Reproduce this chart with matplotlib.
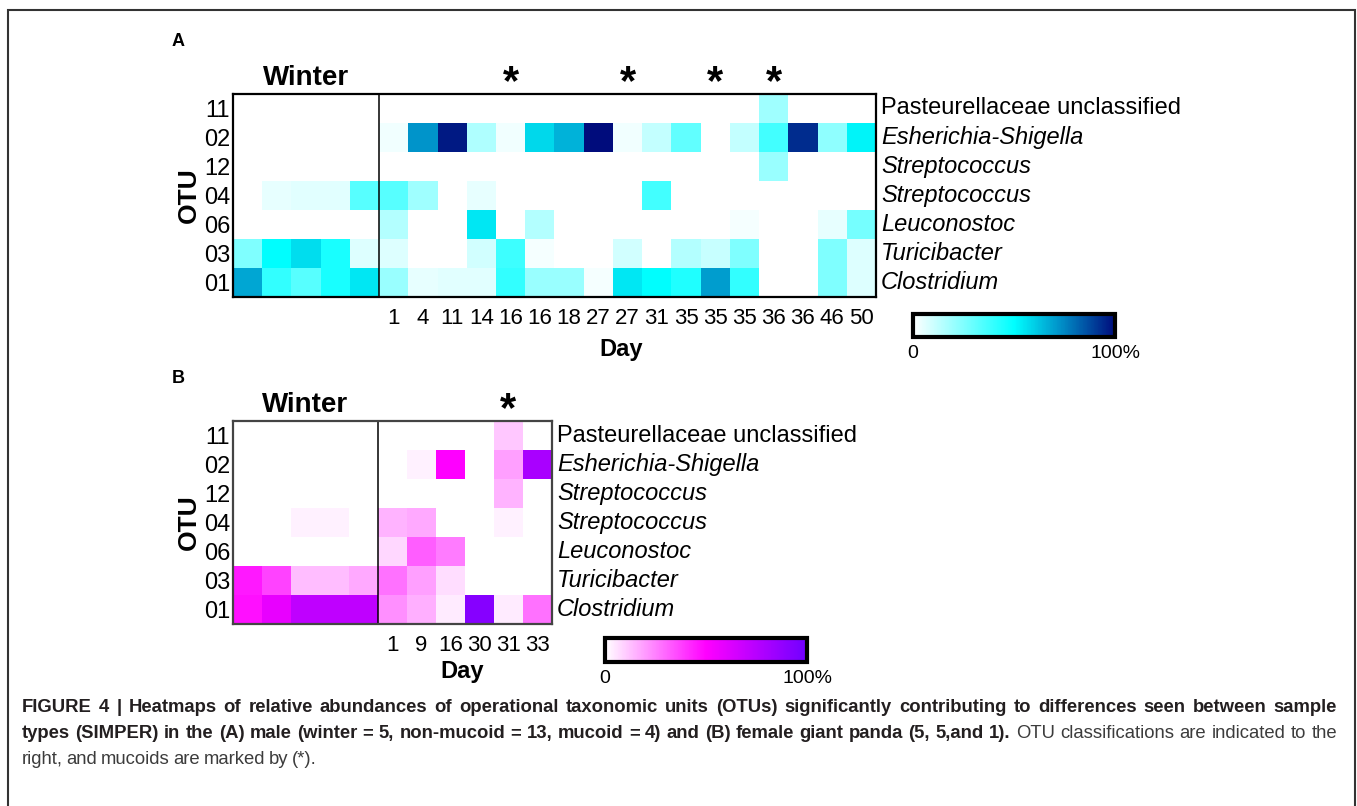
import matplotlib
matplotlib.use("Agg")
import matplotlib.pyplot as plt
import numpy as np
from matplotlib.colors import LinearSegmentedColormap
from matplotlib.patches import Rectangle
from matplotlib.transforms import offset_copy

# --- Data ---
otus = ["11", "02", "12", "04", "06", "03", "01"]
taxa = ["Pasteurellaceae unclassified", "Esherichia-Shigella", "Streptococcus",
        "Streptococcus", "Leuconostoc", "Turicibacter", "Clostridium"]
taxa_italic = [False, True, True, True, True, True, True]

n_winter_a = 5
days_a = [1, 4, 11, 14, 16, 16, 18, 27, 27, 31, 35, 35, 35, 36, 36, 46, 50]
mucoid_a = [0, 0, 0, 0, 1, 0, 0, 0, 1, 0, 0, 1, 0, 1, 0, 0, 0]
# relative abundance (0-1), rows = otus, cols = 5 winter + days_a
ab_11_a = [0, 0, 0, 0, 0, 0, 0, 0, 0, 0, 0, 0, 0, 0, 0, 0, 0, 0, 0.19, 0, 0, 0]
ab_02_a = [0, 0, 0, 0, 0, 0.03, 0.72, 0.97, 0.16, 0.03, 0.58, 0.66, 1.0, 0.03, 0.12,
           0.31, 0, 0.12, 0.37, 0.93, 0.22, 0.52]
ab_12_a = [0, 0, 0, 0, 0, 0, 0, 0, 0, 0, 0, 0, 0, 0, 0, 0, 0, 0, 0.2, 0, 0, 0]
ab_04_a = [0, 0.05, 0.06, 0.06, 0.33, 0.33, 0.19, 0, 0.05, 0, 0, 0, 0, 0, 0.37,
           0, 0, 0, 0, 0, 0, 0]
ab_06_a = [0, 0, 0, 0, 0, 0.15, 0, 0, 0.55, 0, 0.15, 0, 0, 0, 0, 0, 0, 0.02, 0, 0,
           0.05, 0.27]
ab_03_a = [0.25, 0.5, 0.57, 0.45, 0.07, 0.07, 0, 0, 0.09, 0.38, 0.02, 0, 0, 0.09, 0,
           0.15, 0.11, 0.25, 0, 0, 0.25, 0.07]
ab_01_a = [0.68, 0.4, 0.33, 0.45, 0.55, 0.2, 0.05, 0.06, 0.06, 0.4, 0.2, 0.2, 0.02,
           0.55, 0.5, 0.44, 0.7, 0.4, 0, 0, 0.25, 0.07]

n_winter_b = 5
days_b = [1, 9, 16, 30, 31, 33]
mucoid_b = [0, 0, 0, 0, 1, 0]
ab_11_b = [0, 0, 0, 0, 0, 0, 0, 0, 0, 0.11, 0]
ab_02_b = [0, 0, 0, 0, 0, 0, 0.03, 0.5, 0, 0.19, 0.8]
ab_12_b = [0, 0, 0, 0, 0, 0, 0, 0, 0, 0.15, 0]
ab_04_b = [0, 0, 0.03, 0.03, 0, 0.15, 0.17, 0, 0, 0.03, 0]
ab_06_b = [0, 0, 0, 0, 0, 0.08, 0.32, 0.26, 0, 0, 0]
ab_03_b = [0.45, 0.37, 0.13, 0.13, 0.17, 0.28, 0.19, 0.07, 0, 0, 0]
ab_01_b = [0.47, 0.58, 0.72, 0.72, 0.72, 0.22, 0.16, 0.04, 0.92, 0.04, 0.28]

caption_1 = ("FIGURE 4 | Heatmaps of relative abundances of operational taxonomic units "
             "(OTUs) significantly contributing to differences seen between sample")
caption_2b = ("types (SIMPER) in the (A) male (winter = 5, non-mucoid = 13, mucoid = 4) "
              "and (B) female giant panda (5, 5,and 1).")
caption_2n = "OTU classifications are indicated to the"
caption_3 = "right, and mucoids are marked by (*)."

W, H = 1357, 806
SANS = ["Liberation Sans", "DejaVu Sans"]

cmap_a = LinearSegmentedColormap.from_list(
    "male", [(0, "white"), (0.5, "#00ffff"), (0.73, "#0090c8"), (1.0, "#000c7c")])
cmap_b = LinearSegmentedColormap.from_list(
    "female", [(0, "white"), (0.5, "#ff00ff"), (1.0, "#7000ff")])

fig = plt.figure(figsize=(W / 100, H / 100), dpi=100)


def px_axes(left, top, right, bottom):
    return fig.add_axes([left / W, 1 - bottom / H, (right - left) / W, (bottom - top) / H])


def heatmap(ax, mat, cmap, n_winter, days, mucoid, edge, day_y):
    ncol = mat.shape[1]
    ax.imshow(mat, cmap=cmap, vmin=0, vmax=1, aspect="auto", interpolation="nearest")
    ax.axvline(n_winter - 0.5, color="black", lw=1.1)
    ax.set_xticks(np.arange(n_winter, ncol))
    ax.set_xticklabels([str(d) for d in days], family=SANS, fontsize=16)
    ax.set_yticks(np.arange(len(otus)))
    ax.set_yticklabels(otus, family=SANS, fontsize=17)
    ax.tick_params(length=0, pad=2)
    ax.tick_params(axis="x", pad=8)
    for s in ax.spines.values():
        s.set_linewidth(1.6)
        s.set_color(edge)
    ax.set_ylabel("OTU", fontsize=19, fontweight="bold", family=SANS, labelpad=2)

    # taxa names on the right
    tr = offset_copy(ax.get_yaxis_transform(), fig=fig, x=5, y=0, units="dots")
    for i, (name, it) in enumerate(zip(taxa, taxa_italic)):
        ax.text(1, i, name, transform=tr, va="center", ha="left", fontsize=17,
                family=SANS, style="italic" if it else "normal")

    # Winter + mucoid asterisks above
    top = ax.get_xaxis_transform()
    ax.text((n_winter - 1) / 2, 1.08, "Winter", transform=top, ha="center", va="center",
            fontsize=20, fontweight="bold", family=SANS)
    for j, m in enumerate(mucoid):
        if m:
            ax.text(n_winter + j, 0.955, "*", transform=top, ha="center", va="bottom",
                    fontsize=30, fontweight="bold", family=SANS)
    ax.set_xlabel("Day", fontsize=17, fontweight="bold", family=SANS)
    ax.xaxis.set_label_coords((n_winter + (ncol - n_winter) / 2) / ncol - 0.01, day_y)


def colorbar(cax, im_cmap):
    sm = plt.cm.ScalarMappable(cmap=im_cmap, norm=plt.Normalize(0, 1))
    cb = fig.colorbar(sm, cax=cax, orientation="horizontal")
    cb.set_ticks([0, 1])
    cb.set_ticklabels(["0", "100%"])
    cax.tick_params(length=0, pad=6, labelsize=14)
    for lab in cax.get_xticklabels():
        lab.set_family(SANS)
    cb.outline.set_linewidth(3)


# --- Panel A ---
mat_a = np.array([ab_11_a, ab_02_a, ab_12_a, ab_04_a, ab_06_a, ab_03_a, ab_01_a])
ax_a = px_axes(233, 94, 876, 297)
heatmap(ax_a, mat_a, cmap_a, n_winter_a, days_a, mucoid_a, "black", -0.20)
colorbar(px_axes(913, 314, 1115, 337), cmap_a)
fig.text(178 / W, 1 - 42 / H, "A", fontsize=13, fontweight="bold", family=SANS,
         ha="center", va="center")

# --- Panel B ---
mat_b = np.array([ab_11_b, ab_02_b, ab_12_b, ab_04_b, ab_06_b, ab_03_b, ab_01_b])
ax_b = px_axes(233, 421, 552, 624)
heatmap(ax_b, mat_b, cmap_b, n_winter_b, days_b, mucoid_b, "#444444", -0.175)
colorbar(px_axes(605, 638, 807, 662), cmap_b)
fig.text(178 / W, 1 - 379 / H, "B", fontsize=13, fontweight="bold", family=SANS,
         ha="center", va="center")

# --- Caption (justified lines, placed word by word) ---
bold_c, norm_c = "#231f20", "#3c3c3c"
renderer = fig.canvas.get_renderer()


def caption_line(parts, y, x0=22, x1=1337, justify=True):
    words = []
    for txt, bold in parts:
        words += [(w, bold) for w in txt.split()]
    arts = []
    for w, bold in words:
        t = fig.text(0, 1 - (y + 5) / H, w, fontsize=13.3, family=SANS,
                     va="baseline", ha="left",
                     fontweight="bold" if bold else "normal",
                     color=bold_c if bold else norm_c)
        arts.append(t)
    widths = [a.get_window_extent(renderer).width for a in arts]
    gap = (x1 - x0 - sum(widths)) / (len(arts) - 1) if justify else 3.7
    x = x0
    for a, wd in zip(arts, widths):
        a.set_x(x / W)
        x += wd + gap


caption_line([(caption_1, True)], 707)
caption_line([(caption_2b, True), (caption_2n, False)], 733)
caption_line([(caption_3, False)], 759, justify=False)

# frame round the figure
fig.add_artist(Rectangle((8 / W, -0.05), (1355 - 8) / W, 1.05 - 10 / H,
                         transform=fig.transFigure, fill=False, lw=1.5,
                         edgecolor="#333333"))

fig.savefig("out.png", dpi=100)
